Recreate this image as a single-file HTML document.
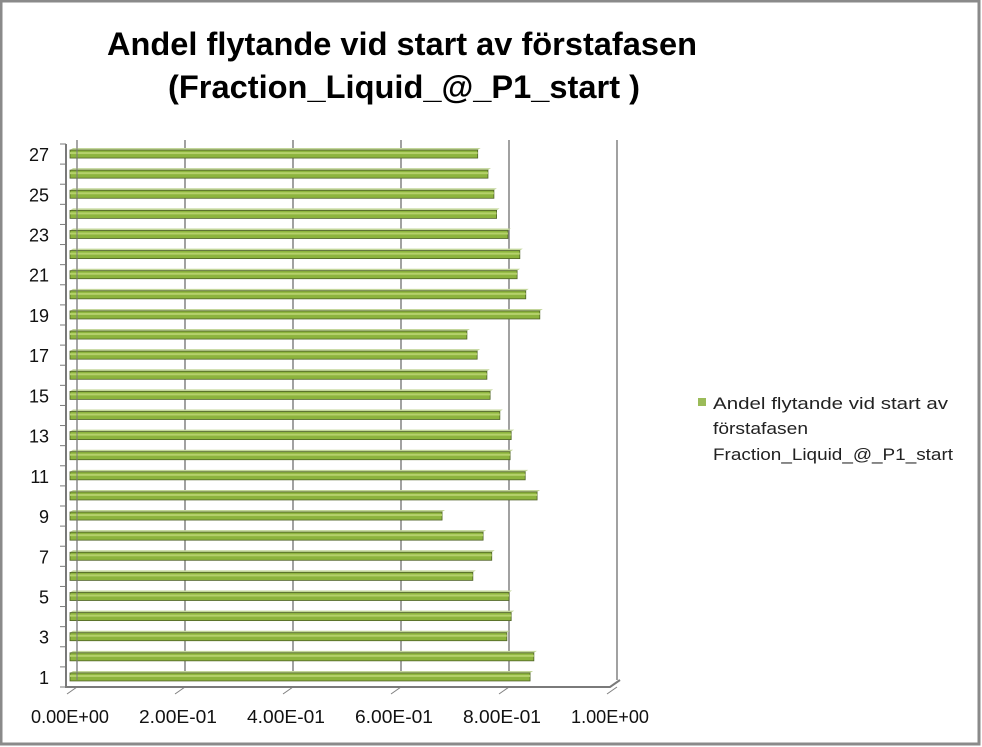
<!DOCTYPE html>
<html><head><meta charset="utf-8"><style>
body{margin:0;background:#fff;}
svg{display:block;font-family:"Liberation Sans",sans-serif;}
</style></head><body>
<svg id="c" width="982" height="747">
<rect x="1" y="1" width="978" height="743" fill="#fff" stroke="#8a8a8a" stroke-width="3"/>
<text x="402" y="55" text-anchor="middle" font-size="32" font-weight="bold" textLength="590" lengthAdjust="spacingAndGlyphs">Andel flytande vid start av förstafasen</text>
<text x="404" y="98" text-anchor="middle" font-size="32" font-weight="bold" textLength="472" lengthAdjust="spacingAndGlyphs">(Fraction_Liquid_@_P1_start )</text>
<g id="grid"></g><g id="bars"></g><g id="axes"></g>
<rect x="698" y="398" width="8" height="8" fill="#9bbb59"/>
<text font-size="17" fill="#222"><tspan x="713" y="409" textLength="235" lengthAdjust="spacingAndGlyphs">Andel flytande vid start av</tspan><tspan x="713" y="434" textLength="95" lengthAdjust="spacingAndGlyphs">förstafasen</tspan><tspan x="713" y="460" textLength="240" lengthAdjust="spacingAndGlyphs">Fraction_Liquid_@_P1_start</tspan></text>
</svg>
<script>
const categories=[1,2,3,4,5,6,7,8,9,10,11,12,13,14,15,16,17,18,19,20,21,22,23,24,25,26,27];
const values=[0.852,0.859,0.809,0.817,0.813,0.746,0.781,0.765,0.689,0.865,0.843,0.815,0.817,0.796,0.778,0.772,0.754,0.735,0.870,0.844,0.828,0.833,0.811,0.790,0.785,0.774,0.755];
const xTicks=[0,0.2,0.4,0.6,0.8,1.0];
const xTickLabels=["0.00E+00","2.00E-01","4.00E-01","6.00E-01","8.00E-01","1.00E+00"];
const NS="http://www.w3.org/2000/svg";
const X0=70,XW=540,D=7;
const x=v=>X0+v*XW;
const yTop=144,yBot=687,n=categories.length,step=(yBot-yTop)/n;
const y=i=>yBot-(i+0.5)*step;
function mk(t,a,p){const e=document.createElementNS(NS,t);for(const k in a)e.setAttribute(k,a[k]);p.appendChild(e);return e;}
const grid=document.getElementById('grid'),bars=document.getElementById('bars'),axes=document.getElementById('axes');
xTicks.forEach((v,i)=>{
 const g=mk('line',{x1:x(v)+D,y1:140,x2:x(v)+D,y2:yBot-7,stroke:'#6f6f6f','stroke-width':1.3},grid);
 
 
 const t=mk('line',{x1:x(v)-3,y1:yBot+7,x2:x(v)+D,y2:yBot,stroke:'#7f7f7f'},axes);
 
 
 const l=mk('text',{x:x(v),y:723,'text-anchor':'middle','font-size':18,fill:'#111',textLength:78,lengthAdjust:'spacingAndGlyphs'},axes);
 l.textContent=xTickLabels[i];
 
 
});
const ax=mk('path',{d:`M${X0-4},${yTop} L${X0-4},${yBot} L${x(1)},${yBot} L${x(1)+D+3},${yBot-7}`,fill:'none',stroke:'#7a7a7a','stroke-width':2},axes);


const wall=mk('line',{x1:X0+D,y1:140,x2:X0+D,y2:yBot-7,stroke:'#7a7a7a'},axes);


for(let i=0;i<=n;i++){
 const tk=mk('line',{x1:X0-10,y1:yBot-i*step,x2:X0-4,y2:yBot-i*step,stroke:'#7a7a7a'},axes);
 
 
}
values.forEach((v,i)=>{
 const yc=y(i);
 const top=mk('polygon',{points:`${X0},${yc-4} ${X0+3},${yc-6} ${x(v)+3},${yc-6} ${x(v)},${yc-4}`,fill:'#c3d69b'},bars);
 
 
 const r=mk('rect',{x:X0,y:yc-4,width:x(v)-X0,height:8,fill:'#8db43e',stroke:'#4f6228','stroke-width':0.8},bars);
 
 
 const hl=mk('rect',{x:X0,y:yc-2,width:x(v)-X0,height:2,fill:'#b5d16b'},bars);
 
 
 if(categories[i]%2===1){
  const l=mk('text',{x:49,y:yc+7,'text-anchor':'end','font-size':18,fill:'#111'},axes);
  l.textContent=categories[i];
  
  
 }
});
</script>
</body></html>
